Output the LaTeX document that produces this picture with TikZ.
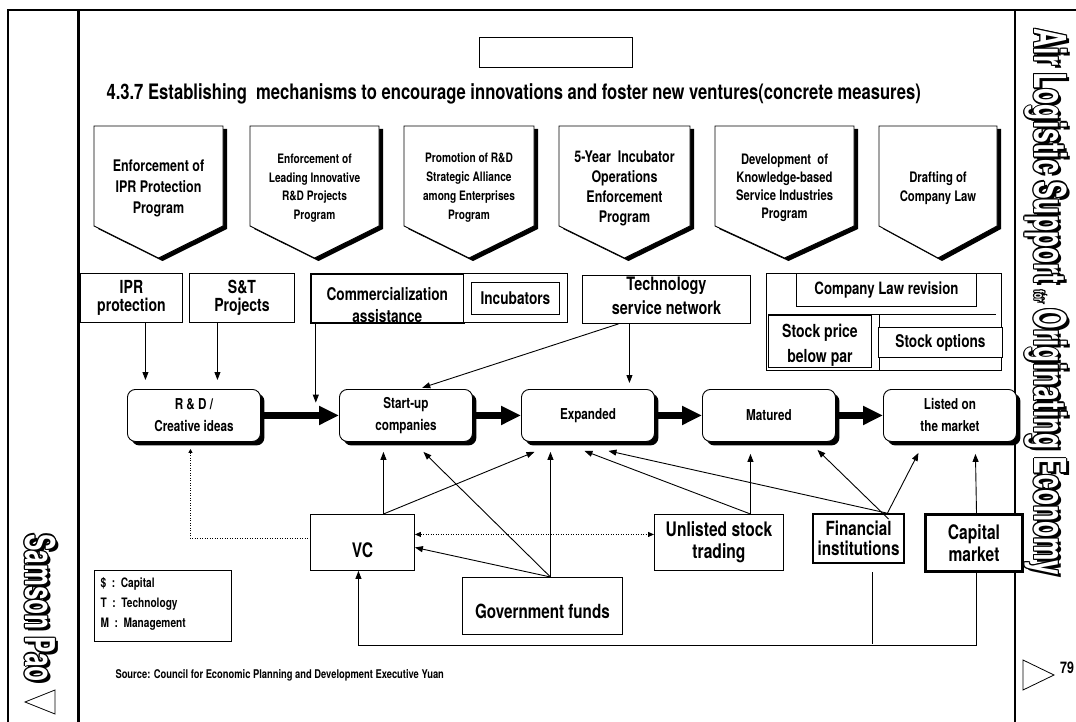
\documentclass[tikz,border=0pt]{standalone}
\usepackage{fontspec}
\setmainfont{TeX Gyre Heros}[FakeStretch=0.78]
\newfontfamily\spinefont{TeX Gyre Heros}[FakeStretch=0.6]
\usetikzlibrary{arrows.meta,shadows}

% bold text at a given size / baselineskip
\newcommand\pts[2]{\fontsize{#1}{#2}\selectfont\bfseries}
\newcommand\spinetext{Air Logistic Support {\fontsize{14}{14}\selectfont for} Originating Economy}
\newcommand\authortext{Samson Pao}

\tikzset{
  box/.style={draw, fill=white, line width=0.9pt, inner sep=0pt, align=center},
  prog/.style={draw, fill=white, line width=0.9pt,
    drop shadow={shadow xshift=4pt, shadow yshift=-3pt, fill=black, opacity=1}},
  stage/.style={box, rounded corners=8pt, minimum width=133pt, minimum height=52pt,
    drop shadow={shadow xshift=4pt, shadow yshift=-4pt, fill=black, opacity=1},
    font=\pts{15}{22}},
  flow/.style={line width=7pt, -{Triangle[length=20pt,width=18pt]}},
  feed/.style={line width=0.9pt, -{Triangle[length=8pt,width=6pt]}},
  dots/.style={line width=0.9pt, dash pattern=on 1pt off 1.5pt},
  spine/.style={font=\spinefont\bfseries\fontsize{44}{44}\selectfont, inner sep=0pt},
}

\begin{document}
\begin{tikzpicture}[x=1pt, y=-1pt]
  \useasboundingbox (0,0) rectangle (1076,722);

  %========= page frame =========
  \draw[line width=2pt] (8,722) -- (8,10) -- (1076,10);
  \draw[line width=3pt] (78,10) -- (78,722);
  \draw[line width=1.2pt] (1015,10) -- (1015,722);

  %========= heading =========
  \node[box, minimum width=153pt, minimum height=30pt, anchor=north west] (tab) at (479,37) {};
  \node[anchor=base west, font=\pts{21.3}{26}] (title) at (103,100)
    {4.3.7 Establishing\ \ mechanisms to encourage innovations and foster new ventures(concrete measures)};

  %========= programs =========
  \foreach \l/\r/\fz/\fk/\txt [count=\i] in {
      94/223/16/21/{Enforcement of\\IPR Protection\\Program},
      250/379/13/18.5/{Enforcement of\\Leading Innovative\\R\&D Projects\\Program},
      404/534/13/19/{Promotion of R\&D\\Strategic Alliance\\among Enterprises\\Program},
      559/690/16/20/{5-Year\ \ Incubator\\Operations\\Enforcement\\Program},
      715/854/14.4/18/{Development\ \ of\\Knowledge-based\\Service Industries\\Program},
      879/997/14.5/19/{Drafting of\\Company Law}}
  {
    \draw[prog] (\l,126) -- (\r,126) -- (\r,226) -- ({(\l+\r)/2},258) -- (\l,226) -- cycle;
    \node[align=center, font=\pts{\fz}{\fk}] (prog\i) at ({(\l+\r)/2},188) {\txt};
  }

  %========= measures =========
  \node[box, minimum width=102pt, minimum height=49pt, anchor=north west, font=\pts{18}{18}] (ipr) at (80,273) {IPR\\protection};
  \node[box, minimum width=105pt, minimum height=49pt, anchor=north west, font=\pts{18}{18}] (snt) at (189,273) {S\&T\\Projects};
  \node[box, line width=1.6pt, minimum width=153pt, minimum height=49pt, anchor=north west] (comm) at (310,273) {};
  \node[align=center, font=\pts{17.5}{22}] (commtxt) at ([yshift=-7pt]comm.center) {Commercialization\\assistance};
  \node[box, minimum width=104pt, minimum height=49pt, anchor=north west] (incub) at (463,273) {};
  \node[box, minimum width=88pt, minimum height=32pt, font=\pts{17.5}{20}] (incubin) at (incub.center) {Incubators};
  \node[box, minimum width=168pt, minimum height=48pt, anchor=north west] (tech) at (582,275) {};
  \node[align=center, font=\pts{18.5}{24}] (techtxt) at ([yshift=4pt]tech.center) {Technology\\service network};

  % company law group
  \node[box, minimum width=235pt, minimum height=97pt, anchor=north west] (law) at (766,273) {};
  \node[box, minimum width=180pt, minimum height=33pt, anchor=north west, font=\pts{17}{20}] (revise) at (796,273) {Company Law revision};
  \draw[line width=0.9pt] (768,314) -- (996,314);
  \draw[line width=0.9pt] (879,314) -- (879,370);
  \node[box, minimum width=103pt, minimum height=52pt, anchor=north west] (par) at (768,315) {};
  \node[align=center, font=\pts{18}{25}] (partxt) at ([yshift=-4pt]par.center) {Stock price\\below par};
  \node[box, minimum width=124pt, minimum height=30pt, anchor=north west, font=\pts{17.5}{20}] (options) at (878,327) {Stock options};

  %========= stages =========
  \node[stage, anchor=north west] (rd) at (127,389) {R \& D /\\Creative ideas};
  \node[stage, anchor=north west] (startup) at (339,389) {Start-up\\companies};
  \node[stage, anchor=north west] (expanded) at (521,389) {Expanded};
  \node[stage, anchor=north west] (matured) at (702,389) {Matured};
  \node[stage, anchor=north west] (listed) at (883,389) {Listed on\\the market};

  \draw[flow] (rd) -- (startup);
  \draw[flow] (startup) -- (expanded);
  \draw[flow] (expanded) -- (matured);
  \draw[flow] (matured) -- (listed);

  %========= funding sources =========
  \node[box, minimum width=104pt, minimum height=56pt, anchor=north west] (vc) at (310,514) {};
  \node[font=\pts{20}{22}] (vctxt) at ([yshift=-8pt]vc.center) {VC};
  \node[box, minimum width=129pt, minimum height=56pt, anchor=north west, font=\pts{20}{22}] (unlisted) at (654,514) {Unlisted stock\\trading};
  \node[box, line width=2pt, minimum width=91pt, minimum height=49pt, anchor=north west, font=\pts{19.5}{20}] (fin) at (812,513) {Financial\\institutions};
  \node[box, line width=3pt, minimum width=97pt, minimum height=57pt, anchor=north west, font=\pts{20}{22}] (capital) at (924,513) {Capital\\market};
  \node[box, minimum width=160pt, minimum height=57pt, anchor=north west] (gov) at (462,577) {};
  \node[font=\pts{19.5}{22}] (govtxt) at ([yshift=-5pt]gov.center) {Government funds};

  % key
  \node[box, minimum width=137pt, minimum height=71pt, anchor=north west] (legend) at (94,570) {};
  \node[anchor=north west, align=left, font=\pts{13}{20}] (keys) at (97,574)
    {\$\ \ :\ \ Capital\\T\ \ :\ \ Technology\\M\ \ :\ \ Management};
  \node[anchor=west, font=\pts{12}{14}] (source) at (112,675)
    {Source: Council for Economic Planning and Development Executive Yuan};

  %========= connectors =========
  \draw[feed, shorten >=9pt] ([xshift=14pt]ipr.south) -- ([xshift=14pt]ipr.south |- rd.north);
  \draw[feed, shorten >=9pt] ([xshift=-24.5pt]snt.south) -- ([xshift=-24.5pt]snt.south |- rd.north);
  \draw[feed] ([xshift=-71.5pt]comm.south) -- ++(0,79);
  \draw[feed, shorten >=6pt] ([xshift=-37pt]tech.south) -- ([xshift=-37pt]tech.south |- expanded.north);
  \draw[feed, shorten >=4pt] ([xshift=-48pt]tech.south) -- ([xshift=12.5pt]startup.north);

  \draw[feed] ([xshift=21pt]vc.north) -- ([xshift=-22.5pt,yshift=-10pt]startup.south);
  \draw[feed] ([xshift=21pt]vc.north) -- ([xshift=-53.5pt,yshift=-10pt]expanded.south);
  \draw[feed] ([xshift=8pt]gov.north) -- ([xshift=17.5pt,yshift=-10pt]startup.south);
  \draw[feed] ([xshift=8pt]gov.north) -- ([xshift=-37.5pt,yshift=-10pt]expanded.south);
  \draw[feed] ([xshift=8pt]gov.north) -- ([yshift=-5pt]vc.east);
  \draw[feed] ([xshift=31.5pt]unlisted.north) -- ([xshift=-3.5pt,yshift=-9pt]expanded.south);
  \draw[feed] ([xshift=31.5pt]unlisted.north) -- ([xshift=-18.5pt,yshift=-12pt]matured.south);
  \draw[feed] ([xshift=28pt]fin.north) -- ([xshift=20.5pt,yshift=-9pt]expanded.south);
  \draw[feed] ([xshift=30pt,yshift=-6pt]fin.north) -- ([xshift=48.5pt,yshift=-8pt]matured.south);
  \draw[feed] ([xshift=29pt]fin.north) -- ([xshift=-31.5pt,yshift=-11pt]listed.south);
  \draw[feed] ([xshift=2.5pt]capital.north) -- ([xshift=25.5pt,yshift=-12pt]listed.south);

  \draw[dots, {Triangle[length=6pt,width=5pt]}-{Triangle[length=6pt,width=5pt]}]
    ([yshift=8pt]vc.east) -- ([yshift=8pt]vc.east -| unlisted.west);
  \draw[dots, {Triangle[length=4pt,width=4pt]}-] ([xshift=-3.5pt,yshift=-7pt]rd.south) |- ([yshift=4pt]vc.west);

  \draw[feed] ([xshift=2.5pt]capital.south) -- ++(0,72) -| ([xshift=-4pt]vc.south);
  \draw[line width=0.9pt] ([xshift=13.5pt]fin.south) ++(0,8) -- ++(0,72);

  %========= side captions =========
  \node[spine, rotate=-90, text=black] (spineshade) at (1049,305) {\spinetext};
  \foreach \a in {0,45,...,315}
    \node[spine, rotate=-90, text=black] (spinerim\a) at ([shift={(\a:1.3pt)}]1046,302) {\spinetext};
  \node[spine, rotate=-90, text=white] (spine) at (1046,302) {\spinetext};

  \node[spine, rotate=-90, text=black, font=\spinefont\bfseries\fontsize{41}{41}\selectfont] (authorshade) at (43,611) {\authortext};
  \foreach \a in {0,45,...,315}
    \node[spine, rotate=-90, text=black, font=\spinefont\bfseries\fontsize{41}{41}\selectfont] (authorrim\a) at ([shift={(\a:1.3pt)}]40,608) {\authortext};
  \node[spine, rotate=-90, text=white, font=\spinefont\bfseries\fontsize{41}{41}\selectfont] (author) at (40,608) {\authortext};

  \draw[line width=0.8pt] (1023,660) -- (1054,675) -- (1023,690) -- cycle;
  \node[font=\pts{16}{16}] (folio) at (1067,668) {79};
  \draw[line width=0.8pt] (55,690) -- (25,702) -- (55,714) -- cycle;
\end{tikzpicture}
\end{document}
